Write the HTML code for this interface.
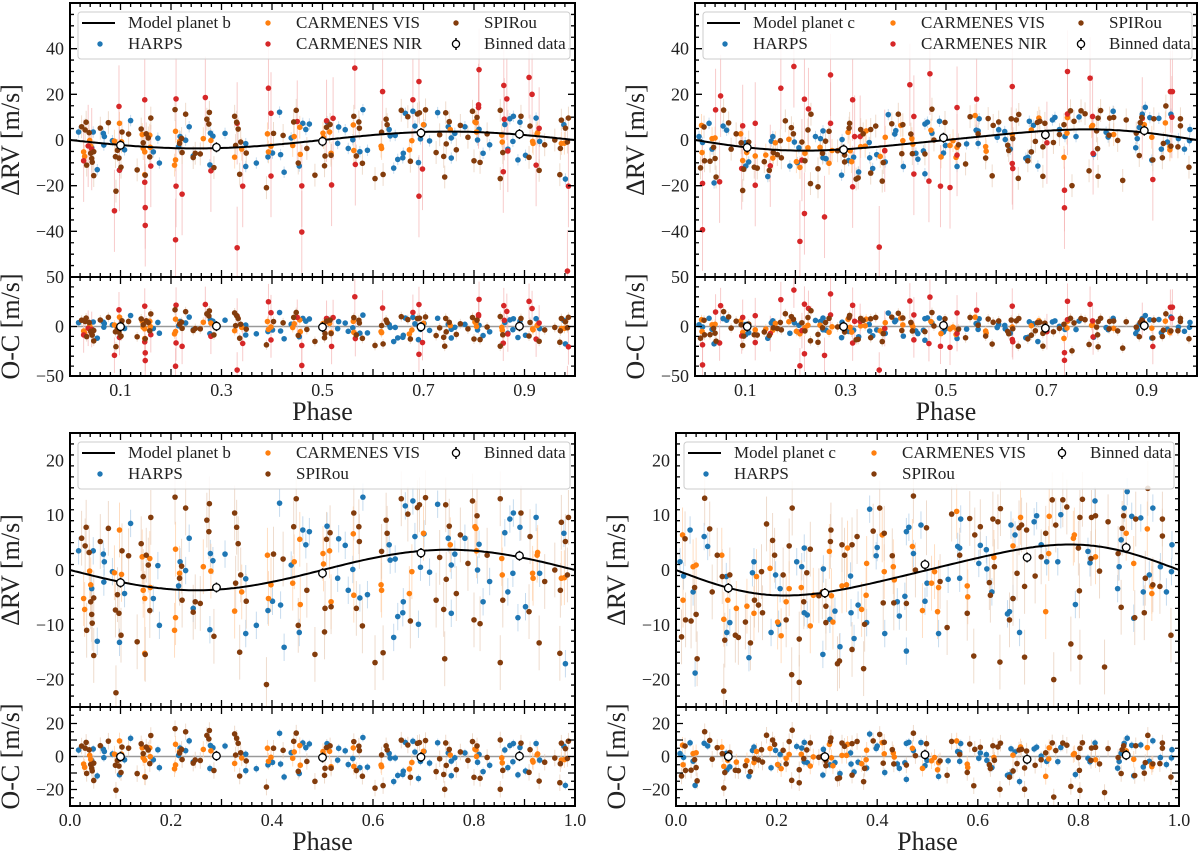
<!DOCTYPE html>
<html><head><meta charset="utf-8"><style>
html,body{margin:0;padding:0;background:#fff;}
svg{display:block;font-family:"Liberation Serif",serif;}
</style></head><body>
<svg id="fig" width="1200" height="852" viewBox="0 0 1200 852" xmlns="http://www.w3.org/2000/svg"></svg>
<script>
// ---------- planet b data [phase, dRV] ----------
const bSpirou=[[0.023,5.8],[0.03,4.4],[0.032,7.8],[0.033,-11],[0.038,3.2],[0.041,-5.8],[0.043,-8.1],[0.044,-9.7],[0.047,-15.6],[0.047,-5.1],[0.06,5.2],[0.076,7.6],[0.091,-22.4],[0.09,-7.3],[0.097,-7.9],[0.094,-4.5],[0.101,-11.9],[0.103,3.5],[0.116,2.6],[0.133,-13.1],[0.141,4.8],[0.149,-15.4],[0.151,2.7],[0.145,-1.2],[0.155,0.9],[0.158,-7.4],[0.16,9.6],[0.208,13.3],[0.217,-1.5],[0.221,0.7],[0.222,-5.5],[0.229,11.3],[0.244,-7.7],[0.248,-5.8],[0.258,-6.1],[0.271,9.1],[0.276,12.1],[0.275,7],[0.285,-12.1],[0.326,10.4],[0.33,7.8],[0.333,4.8],[0.336,-15],[0.338,-0.9],[0.328,-2.4],[0.349,-5.7],[0.389,-20.9],[0.403,2.9],[0.422,2],[0.448,13],[0.443,7.9],[0.452,-10.1],[0.469,-3.7],[0.485,-15.4],[0.504,-11.3],[0.505,-7],[0.508,5.6],[0.515,6.8],[0.517,-6.7],[0.562,10.4],[0.567,-7],[0.572,7.9],[0.573,5.2],[0.579,-10.2],[0.604,-16.9],[0.617,3.4],[0.62,-15.1],[0.626,9.1],[0.628,6.7],[0.656,13],[0.669,10.2],[0.674,-9.3],[0.688,11.4],[0.692,11.9],[0.704,13.2],[0.725,-5.5],[0.732,2.3],[0.74,-7.2],[0.742,-16.2],[0.744,11.9],[0.751,8],[0.745,-1.7],[0.765,-4.3],[0.773,6.4],[0.788,1.2],[0.797,12.6],[0.8,-9.1],[0.806,9.9],[0.812,-9.8],[0.826,2.7],[0.852,-16.9],[0.852,13],[0.857,-5.5],[0.893,10.4],[0.911,6.1],[0.909,-7.6],[0.929,-13.3],[0.94,-2.1],[0.96,0],[0.97,-15.2],[0.973,8.7],[0.981,5.2],[0.985,-0.9],[0.987,9.6],[0.971,-3.7]];
const bHarps=[[0.017,3.5],[0.043,-3.4],[0.046,3.5],[0.054,-13],[0.066,2.9],[0.067,-2.2],[0.068,1.5],[0.084,-0.3],[0.098,-13.2],[0.108,-4.3],[0.12,8.5],[0.165,-5.2],[0.174,0.8],[0.177,-10.1],[0.215,-2.9],[0.218,1.5],[0.229,-0.1],[0.236,5.8],[0.244,-7],[0.277,-10.9],[0.278,3],[0.283,1.7],[0.307,2.9],[0.348,-11.6],[0.348,-1.6],[0.369,-10.1],[0.392,-7.4],[0.401,-5.7],[0.415,12.2],[0.417,-6.4],[0.424,-14.1],[0.438,0.9],[0.461,7.3],[0.467,4.6],[0.474,7],[0.454,-11.4],[0.509,8],[0.532,5.7],[0.53,-1.5],[0.545,4.5],[0.551,-3.7],[0.56,0.1],[0.574,-5.1],[0.58,13.3],[0.589,-4.5],[0.632,4.6],[0.634,1.8],[0.644,2],[0.641,-12.3],[0.649,-8.5],[0.659,-7.8],[0.66,-5.8],[0.664,11.7],[0.679,12.6],[0.683,6.1],[0.69,-9.9],[0.694,0.5],[0.701,6.6],[0.712,-0.4],[0.728,12],[0.749,5.8],[0.755,0.9],[0.755,-7.9],[0.762,2.9],[0.782,5.8],[0.807,0],[0.81,4.7],[0.818,-5.8],[0.831,-2.1],[0.861,6.8],[0.867,-4],[0.871,9.3],[0.878,10.4],[0.877,-0.6],[0.887,-8.7],[0.891,7.8],[0.902,-6.7],[0.923,9.6],[0.93,-0.6],[0.978,6.7],[0.981,-17.1]];
const bVis=[[0.027,-5.2],[0.029,-7.2],[0.039,-0.2],[0.041,-2.7],[0.088,-0.5],[0.098,7.3],[0.102,-0.8],[0.143,2.4],[0.145,-3.7],[0.148,-5.2],[0.148,-15.2],[0.158,2.1],[0.159,-3.2],[0.207,-11],[0.209,-8.7],[0.209,3.8],[0.217,-0.6],[0.264,0.6],[0.279,-0.2],[0.326,-7.5],[0.34,-4],[0.391,2.7],[0.393,-5.2],[0.398,-2.7],[0.441,-2.4],[0.444,1.5],[0.455,5.6],[0.456,-6.3],[0.501,3],[0.502,1.1],[0.514,3.5],[0.517,-5.8],[0.561,6.6],[0.562,-4.6],[0.616,-2.7],[0.617,-3.7],[0.672,-4.3],[0.677,-0.3],[0.7,6.7],[0.753,4.6],[0.802,7.9],[0.804,7.6],[0.805,3.5],[0.856,-0.9],[0.855,2.1],[0.916,-0.6],[0.917,-1.5],[0.925,2.7],[0.926,3.2],[0.973,-1.5],[0.979,-1.4]];
const bNir=[[0.027,-9.1],[0.036,-2.6],[0.043,-4],[0.088,-31],[0.097,14.7],[0.098,-13.2],[0.148,17.6],[0.148,-18.5],[0.149,-29.6],[0.149,-37.4],[0.16,-11.4],[0.209,-43.7],[0.21,18],[0.21,-20.2],[0.222,-23.7],[0.268,18.6],[0.279,-13.5],[0.331,-47.2],[0.331,7.3],[0.342,-20.2],[0.393,22.7],[0.398,11.7],[0.398,-15.8],[0.45,8.1],[0.459,-20.1],[0.459,-40.3],[0.508,8.4],[0.518,-19.7],[0.521,9.5],[0.564,31.5],[0.565,-10.7],[0.619,21.2],[0.679,17.6],[0.691,25.6],[0.691,-24.6],[0.698,-12.7],[0.81,30.8],[0.809,15.4],[0.809,14.2],[0.859,23.9],[0.858,-13.9],[0.86,9.1],[0.865,18],[0.867,-4.8],[0.909,27.4],[0.915,20],[0.923,-11],[0.929,5.1],[0.985,-57.4],[0.987,-20.2]];
const bBinned=[[0.1,-2.3],[0.29,-3.2],[0.5,-0.6],[0.695,3.1],[0.89,2.6]];
const bModelCoef=[-3.7,0];
// ---------- planet c data ----------
const cSpirou=[[0.011,-12.2],[0.018,5.7],[0.019,-9.1],[0.03,-9.3],[0.037,-3.2],[0.04,-8.1],[0.042,-16.2],[0.057,13.1],[0.067,7.5],[0.072,-4],[0.082,2.7],[0.095,-22.1],[0.092,-1.2],[0.097,-12.8],[0.107,-0.9],[0.118,-11.9],[0.124,-12.3],[0.138,-9.5],[0.148,-13.3],[0.156,-5.5],[0.164,-6.4],[0.17,-0.3],[0.172,-7.8],[0.18,8.4],[0.192,5.4],[0.196,2.7],[0.213,-0.9],[0.219,-9.1],[0.225,4.4],[0.231,11.3],[0.23,-19.1],[0.245,-12.6],[0.245,-20.5],[0.254,-5.8],[0.26,-0.5],[0.267,3.8],[0.284,-4.7],[0.291,-4],[0.298,-6.6],[0.298,-9.6],[0.307,5.2],[0.308,7.3],[0.321,-17.1],[0.325,-16.6],[0.33,4.6],[0.335,2.7],[0.35,4.6],[0.35,-14.5],[0.36,6.1],[0.373,-18],[0.375,-9.9],[0.392,7.1],[0.405,11.3],[0.412,-6],[0.414,6.7],[0.43,2.6],[0.433,-6],[0.458,-6.1],[0.472,13.5],[0.476,0],[0.498,7.7],[0.525,-2.1],[0.539,-10.5],[0.548,10.2],[0.564,2.7],[0.579,-7.9],[0.584,9.4],[0.592,-15.7],[0.594,6.4],[0.605,7.9],[0.623,-2.3],[0.625,-4.6],[0.63,9.3],[0.633,0.6],[0.64,8.8],[0.644,-16.8],[0.645,11.2],[0.663,-9.1],[0.67,-5.2],[0.678,-0.6],[0.682,7.7],[0.687,8.2],[0.693,-15.9],[0.697,7.3],[0.693,-3],[0.714,-1.1],[0.726,2.4],[0.735,6.7],[0.748,12.8],[0.751,-20],[0.755,8.2],[0.769,12.8],[0.777,11.5],[0.785,-13.5],[0.8,4],[0.802,-3.8],[0.803,9.6],[0.803,-15.9],[0.808,12.9],[0.825,2.1],[0.826,9.6],[0.834,9.9],[0.842,-0.2],[0.852,-17.7],[0.859,8.8],[0.879,3],[0.885,-6.8],[0.887,7.6],[0.89,9.9],[0.912,-8.7],[0.914,9.3],[0.931,-7.8],[0.933,-1.5],[0.938,14.9],[0.948,-2.7],[0.962,-3],[0.967,9.3],[0.967,6.2],[0.984,-11.9]];
const cHarps=[[0.008,1.5],[0.015,-1.1],[0.028,7.3],[0.034,-4],[0.038,-18.8],[0.056,6.1],[0.063,4.3],[0.1,-1.2],[0.101,-11.4],[0.107,-9.6],[0.145,-16],[0.152,-0.5],[0.155,1.5],[0.189,-11.4],[0.198,-0.9],[0.204,-9.9],[0.207,-3.4],[0.24,1.5],[0.25,0.6],[0.255,4],[0.255,-7.8],[0.261,-8.2],[0.292,-15.4],[0.293,0.2],[0.306,-9],[0.316,-7.5],[0.326,-14],[0.347,-1.1],[0.348,-7.8],[0.354,-12.5],[0.362,-6.4],[0.379,-9.6],[0.385,11.1],[0.398,2.6],[0.4,4.1],[0.415,-11.6],[0.44,-5.8],[0.444,-8.4],[0.455,-4.8],[0.458,7],[0.458,-14.8],[0.463,7.8],[0.472,3],[0.487,8.2],[0.495,-5.7],[0.499,-2.4],[0.522,-11.6],[0.541,-1.7],[0.56,4.3],[0.564,4],[0.564,-1.5],[0.566,9.3],[0.602,1.2],[0.605,4.5],[0.617,3.7],[0.618,0.2],[0.628,-4],[0.659,-8],[0.663,-7.6],[0.666,8.2],[0.67,-5.2],[0.674,6.4],[0.683,-11.4],[0.712,8.8],[0.717,9.9],[0.726,4.6],[0.737,1.5],[0.765,10.1],[0.759,1.5],[0.794,-6.3],[0.819,3.4],[0.823,1.3],[0.833,12.6],[0.878,-3.4],[0.881,0.6],[0.885,5.5],[0.891,11.3],[0.897,14.3],[0.906,9.8],[0.91,-8.8],[0.924,9.5],[0.929,-4],[0.941,-0.9],[0.948,11.3],[0.963,0.6],[0.975,-4],[0.985,-0.3],[0.986,4.6]];
const cVis=[[0.013,6.4],[0.014,-5.5],[0.034,0.6],[0.04,0.9],[0.091,2.7],[0.095,-9],[0.103,-5.5],[0.12,-7],[0.141,-6.6],[0.155,-7.9],[0.16,-1.2],[0.187,0.3],[0.202,-9.5],[0.209,-12],[0.219,-5.8],[0.225,-3.4],[0.249,-3.2],[0.267,-10.2],[0.273,-4.6],[0.305,3.4],[0.309,-4.7],[0.312,-9.5],[0.33,-2.9],[0.339,-2.7],[0.341,4],[0.369,-7.2],[0.379,1.2],[0.378,-4.6],[0.41,6.4],[0.414,-0.3],[0.432,0.6],[0.434,-1.8],[0.47,4.3],[0.49,-7.4],[0.508,-2.4],[0.514,-0.3],[0.52,-7.6],[0.522,-3.2],[0.558,10.7],[0.579,-2.9],[0.58,-4.9],[0.632,2.3],[0.67,4.4],[0.685,9.6],[0.735,-7.6],[0.741,3],[0.742,9.8],[0.79,5.8],[0.792,6.4],[0.834,2.4],[0.895,6.7],[0.91,1.2],[0.937,7.5],[0.946,-3],[0.946,-4.3]];
const cNir=[[0.015,-39.3],[0.015,-19],[0.041,13.2],[0.051,19.3],[0.049,-18.3],[0.095,6.2],[0.093,-12.5],[0.12,7.3],[0.12,-19.8],[0.15,-11.3],[0.171,22.7],[0.197,32.2],[0.209,-44.4],[0.218,-32.2],[0.218,17.9],[0.226,13.6],[0.213,-8.8],[0.27,28.5],[0.27,7.3],[0.258,-33.7],[0.314,17.6],[0.314,-20.5],[0.318,1.5],[0.329,1.5],[0.367,-46.9],[0.378,-4.7],[0.428,24.2],[0.436,10.3],[0.436,-14.9],[0.468,29],[0.466,-18],[0.489,-20.2],[0.508,-20.8],[0.522,14.2],[0.522,-6.6],[0.561,17.9],[0.632,23.4],[0.632,-10.3],[0.633,-12.5],[0.701,-1.2],[0.736,-22],[0.736,-29.7],[0.742,11.4],[0.742,30],[0.787,27.1],[0.792,10.3],[0.793,-5.9],[0.891,9.5],[0.912,-17.3],[0.947,21.2],[0.951,21.2],[0.95,10]];
const cBinned=[[0.104,-3.3],[0.296,-4.2],[0.495,1.0],[0.698,2.3],[0.895,4.1]];
const cModelCoef=[-4.55,-0.5];
// tick label arrays
const topXTicks=["0.1","0.3","0.5","0.7","0.9"];
const botXTicks=["0.0","0.2","0.4","0.6","0.8","1.0"];

const NS="http://www.w3.org/2000/svg";
const svg=document.getElementById('fig');
const COL={harps:'#1f77b4',vis:'#ff7f0e',nir:'#d62728',spirou:'#833c0c'};
function mk(tag,attrs,parent){const e=document.createElementNS(NS,tag);for(const k in attrs)e.setAttribute(k,attrs[k]);(parent||svg).appendChild(e);return e;}
function model(coef,p){return coef[0]*Math.sin(2*Math.PI*p)+coef[1]*Math.sin(4*Math.PI*p);}

const panels=[
 {id:'b-top',x0:70,x1:575,top:3,mid:277,bot:376,ylim:60,rlim:50,nir:true,planet:'b',big:true},
 {id:'c-top',x0:695,x1:1197,top:3,mid:277,bot:376,ylim:60,rlim:50,nir:true,planet:'c',big:true},
 {id:'b-bottom',x0:70,x1:575,top:433,mid:707,bot:806,ylim:25,rlim:30,nir:false,planet:'b',big:false},
 {id:'c-bottom',x0:676,x1:1179,top:433,mid:707,bot:806,ylim:25,rlim:30,nir:false,planet:'c',big:false}
];

panels.forEach(P=>{
 const g=mk('g',{});
 
 
 const X=p=>P.x0+p*(P.x1-P.x0);
 const Ym=v=>P.top+(P.ylim-v)/(2*P.ylim)*(P.mid-P.top);
 const Yr=v=>P.mid+(P.rlim-v)/(2*P.rlim)*(P.bot-P.mid);
 const coef=P.planet==='b'?bModelCoef:cModelCoef;
 const D=P.planet==='b'?{harps:bHarps,vis:bVis,nir:bNir,spirou:bSpirou,bin:bBinned}:{harps:cHarps,vis:cVis,nir:cNir,spirou:cSpirou,bin:cBinned};
 const clipId='clip-'+P.id;
 const cp=mk('clipPath',{id:clipId},g);mk('rect',{x:P.x0,y:P.top,width:P.x1-P.x0,height:P.mid-P.top},cp);
 const cpr=mk('clipPath',{id:clipId+'r'},g);mk('rect',{x:P.x0,y:P.mid,width:P.x1-P.x0,height:P.bot-P.mid},cpr);
 const gm=mk('g',{'clip-path':'url(#'+clipId+')'},g);
 
 
 const gr=mk('g',{'clip-path':'url(#'+clipId+'r)'},g);
 
 
 const zl=mk('line',{x1:P.x0,x2:P.x1,y1:Yr(0),y2:Yr(0),stroke:'#999',"stroke-width":1.5},gr);
 
 
 const order=P.nir?['harps','vis','nir','spirou']:['harps','vis','spirou'];
 const err={harps:2.5,vis:5,nir:18,spirou:5};
 const errCol={harps:'#aecde8',vis:'#ffd0a8',nir:'#f5b5b5',spirou:'#e8cdb8'};
 order.forEach(s=>{
  D[s].forEach(pt=>{
   const px=X(pt[0]);const e=err[s];const res=pt[1]-model(coef,pt[0]);
   [[gm,Ym,pt[1]],[gr,Yr,res]].forEach(([par,Y,v])=>{
    const l=mk('line',{x1:px,x2:px,y1:Y(v+e),y2:Y(v-e),stroke:errCol[s],"stroke-width":1,opacity:0.7},par);
    
    
   });
  });
 });
 order.forEach(s=>{
  D[s].forEach(pt=>{
   const px=X(pt[0]);const res=pt[1]-model(coef,pt[0]);
   const c1=mk('circle',{cx:px,cy:Ym(pt[1]),r:2.8,fill:COL[s]},gm);
   
   
   const c2=mk('circle',{cx:px,cy:Yr(res),r:2.8,fill:COL[s]},gr);
   
   
  });
 });
 let d='';for(let i=0;i<=200;i++){const p=i/200;d+=(i?'L':'M')+X(p).toFixed(1)+','+Ym(model(coef,p)).toFixed(1);}
 const mc=mk('path',{d:d,fill:'none',stroke:'#000',"stroke-width":2},gm);
 
 
 D.bin.forEach(pt=>{
  const res=pt[1]-model(coef,pt[0]);
  [[gm,Ym(pt[1])],[gr,Yr(res)]].forEach(([par,y])=>{
   mk('line',{x1:X(pt[0]),x2:X(pt[0]),y1:y-5,y2:y+5,stroke:'#000',"stroke-width":1.5},par);
   const b=mk('circle',{cx:X(pt[0]),cy:y,r:3.8,fill:'#fff',stroke:'#000',"stroke-width":1.3},par);
   
   
  });
 });
 [[P.top,P.mid],[P.mid,P.bot]].forEach(([a,b])=>{
  const r=mk('rect',{x:P.x0,y:a,width:P.x1-P.x0,height:b-a,fill:'none',stroke:'#000',"stroke-width":2},g);
  
  
 });
 let tk='';
 for(let i=0;i<=50;i++){const p=i/50;const x=X(p);const L=(i%5===0)?7:4;
  [[P.top,1],[P.mid,-1],[P.mid,1],[P.bot,-1]].forEach(([y,sg])=>{tk+='M'+x+','+y+'v'+(sg*L);});}
 const ystep=P.big?5:2, ymaj=P.big?20:10;
 for(let v=-P.ylim;v<=P.ylim;v+=ystep){const y=Ym(v);const L=(v%ymaj===0)?7:4;tk+='M'+P.x0+','+y+'h'+L+'M'+P.x1+','+y+'h'+(-L);}
 const rstep=P.big?10:5, rmaj=P.big?50:10;
 for(let v=-P.rlim;v<=P.rlim;v+=rstep){const y=Yr(v);const L=(v%rmaj===0)?7:4;tk+='M'+P.x0+','+y+'h'+L+'M'+P.x1+','+y+'h'+(-L);}
 const tp=mk('path',{d:tk,stroke:'#000',"stroke-width":1.3,fill:'none'},g);
 
 
 function txt(x,y,s,size,anchor,name,rot){const t=mk('text',{x:x,y:y,"font-size":size,"text-anchor":anchor||'middle',fill:'#222'},g);if(rot)t.setAttribute('transform','rotate(-90 '+x+' '+y+')');t.textContent=s;return t;}
 const xl=P.big?topXTicks:botXTicks;
 xl.forEach(s=>{txt(X(parseFloat(s)),P.bot+20,s,18,'middle','x-tick-label');});
 txt((P.x0+P.x1)/2,P.bot+44,'Phase',26,'middle','x-axis-title');
 const ml=P.big?[40,20,0,-20,-40]:[20,10,0,-10,-20];
 ml.forEach(v=>txt(P.x0-6,Ym(v)+6,(v<0?'\u2212':'')+Math.abs(v),18,'end','y-tick-label'));
 const rl=P.big?[50,0,-50]:[20,0,-20];
 rl.forEach(v=>txt(P.x0-6,Yr(v)+6,(v<0?'\u2212':'')+Math.abs(v),18,'end','residual-y-tick-label'));
 txt(P.x0-51,(P.top+P.mid)/2,'\u0394RV [m/s]',26,'middle','y-axis-title',true);
 txt(P.x0-51,(P.mid+P.bot)/2,'O-C [m/s]',26,'middle','residual-y-axis-title',true);
 const ly=P.top+9, lh=47;
 const lg=mk('g',{},g);
 
 
 mk('rect',{x:P.x0+8,y:ly,width:(P.x1-P.x0)-13,height:lh,rx:3,fill:'#fff','fill-opacity':0.85,stroke:'#ccc'},lg);
 const r1=ly+16,r2=ly+37;
 mk('line',{x1:P.x0+12,x2:P.x0+45,y1:r1-5,y2:r1-5,stroke:'#000',"stroke-width":2},lg);
 const items=[[P.x0+58,r1,'Model planet '+P.planet,null],[P.x0+58,r2,'HARPS','harps'],[P.x0+226,r1,'CARMENES VIS','vis']];
 if(P.nir){items.push([P.x0+226,r2,'CARMENES NIR','nir']);items.push([P.x0+414,r1,'SPIRou','spirou']);}
 else{items.push([P.x0+226,r2,'SPIRou','spirou']);}
 items.forEach(([x,y,s,k])=>{
  if(k){const m=mk('circle',{cx:x-28,cy:y-5,r:2.7,fill:COL[k]},lg);}
  const t=mk('text',{x:x,y:y,"font-size":17,fill:'#222'},lg);t.textContent=s;
  
  
 });
 const by=P.nir?r2:r1;
 mk('line',{x1:P.x0+386,x2:P.x0+386,y1:by-11,y2:by+1,stroke:'#000',"stroke-width":1.5},lg);
 mk('circle',{cx:P.x0+386,cy:by-5,r:3.6,fill:'#fff',stroke:'#000',"stroke-width":1.3},lg);
 const bt=mk('text',{x:P.x0+414,y:by,"font-size":17,fill:'#222'},lg);bt.textContent='Binned data';
 
 
});
</script>
</body></html>
